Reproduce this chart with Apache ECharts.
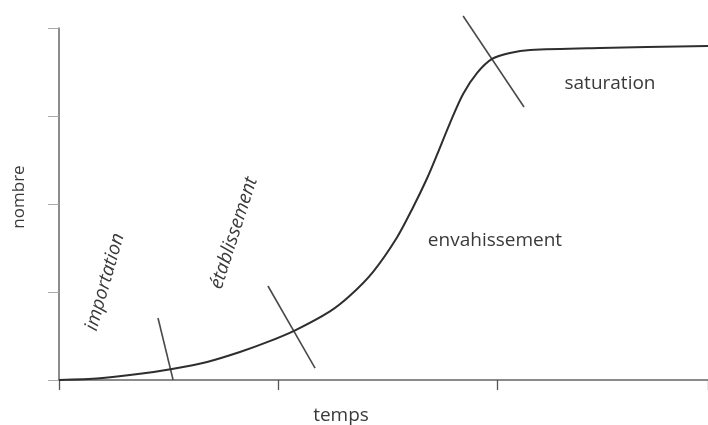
<!DOCTYPE html>
<html>
<head>
<meta charset="utf-8">
<script src="https://cdn.jsdelivr.net/npm/echarts@6/dist/echarts.min.js"></script>
<style>
html,body{margin:0;padding:0;background:#fff;}
#chart{width:708px;height:425px;}
</style>
</head>
<body>
<div id="chart"></div>
<script>
// courbe logistique (temps, nombre)
var tempsData = [0, 0.187, 0.37, 0.516, 0.676, 0.826, 0.95, 1.078, 1.237, 1.329, 1.434, 1.543, 1.616, 1.68, 1.726, 1.785, 1.845, 1.909, 1.977, 2.059, 2.151, 2.47, 2.963];
var nombreData = [0, 0.02, 0.07, 0.125, 0.205, 0.318, 0.43, 0.565, 0.78, 0.96, 1.23, 1.62, 1.96, 2.29, 2.56, 2.92, 3.25, 3.489, 3.648, 3.716, 3.75, 3.773, 3.795];
// traits de séparation des phases [x1, y1, x2, y2]
var separation1 = [0.452, 0.705, 0.521, 0];
var separation2 = [0.954, 1.068, 1.169, 0.136];
var separation3 = [1.845, 4.136, 2.123, 3.102];
var xTicks = [0, 1, 2];
var yTicks = [0, 1, 2, 3, 4];

var chart = echarts.init(document.getElementById('chart'));

var courbe = [];
for (var i = 0; i < tempsData.length; i++) {
	courbe.push([tempsData[i], nombreData[i]]);
}
function segment(s){
	return {
		type:'line',
		data:[[s[0], s[1]], [s[2], s[3]]],
		symbol:'none',
		clip:false,
		lineStyle:{color:'#4a4a4a', width:1.6},
		z:3
	};
}
var labelStyle = {fill:'#3a3a3a', fontFamily:'Open Sans', fontSize:19};

var option = {
	animation:false,
	grid:{left:59, right:0, top:28, bottom:45},
	xAxis:{
		type:'value',
		min:xTicks[0],
		max:2.963,
		interval:1,
		axisLine:{lineStyle:{color:'#666', width:1.5}},
		axisTick:{show:true, length:10, lineStyle:{color:'#555', width:1.3}},
		axisLabel:{show:false},
		splitLine:{show:false}
	},
	yAxis:{
		type:'value',
		min:yTicks[0],
		max:yTicks[yTicks.length-1],
		interval:1,
		axisLine:{show:true, lineStyle:{color:'#666', width:1.5}},
		axisTick:{show:true, length:11, lineStyle:{color:'#aaa', width:1}},
		axisLabel:{show:false},
		splitLine:{show:false}
	},
	series:[
		{
			type:'line',
			data:courbe,
			symbol:'none',
			smooth:0.3,
			clip:false,
			lineStyle:{color:'#2e2e2e', width:2},
			z:4
		},
		segment(separation1),
		segment(separation2),
		segment(separation3)
	],
	graphic:[
		{type:'text', x:19, y:197, rotation:Math.PI/2, style:Object.assign({text:'nombre', textAlign:'center', textVerticalAlign:'middle'}, labelStyle, {fontSize:17})},
		{type:'text', x:341, y:416, style:Object.assign({text:'temps', textAlign:'center', textVerticalAlign:'middle'}, labelStyle)},
		{type:'text', x:495, y:241, style:Object.assign({text:'envahissement', textAlign:'center', textVerticalAlign:'middle'}, labelStyle)},
		{type:'text', x:610, y:84, style:Object.assign({text:'saturation', textAlign:'center', textVerticalAlign:'middle'}, labelStyle)},
		{type:'text', x:105, y:282, rotation:74*Math.PI/180, style:Object.assign({text:'importation', textAlign:'center', textVerticalAlign:'middle', fontStyle:'italic'}, labelStyle)},
		{type:'text', x:234, y:233, rotation:72*Math.PI/180, style:Object.assign({text:'établissement', textAlign:'center', textVerticalAlign:'middle', fontStyle:'italic'}, labelStyle)}
	]
};
chart.setOption(option);
</script>
</body>
</html>
